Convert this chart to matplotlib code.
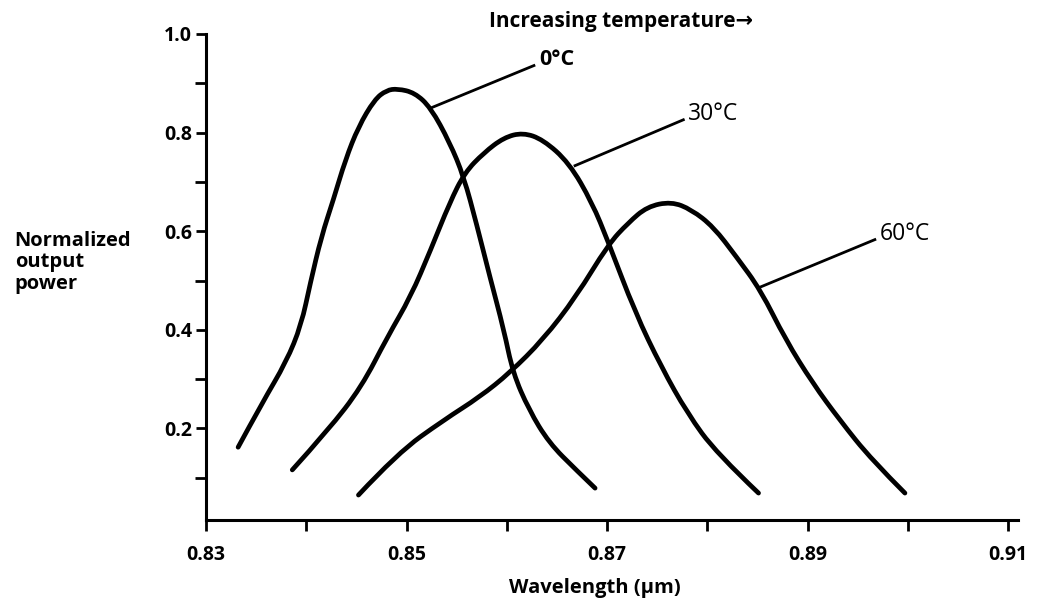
"""Normalized output power vs wavelength at three temperatures."""

import matplotlib.pyplot as plt
from matplotlib.path import Path
from matplotlib.patches import PathPatch
from matplotlib.ticker import MultipleLocator

plt.rcParams["font.family"] = ["Open Sans", "DejaVu Sans"]

# 0 °C curve (wavelength in µm, normalized power)
wl_0 = [0.8332, 0.8356, 0.8380, 0.8395, 0.8404, 0.8415, 0.8427, 0.8439,
        0.8452, 0.8468, 0.8480, 0.8491, 0.8508, 0.8524, 0.8543, 0.8557,
        0.8570, 0.8583, 0.8597, 0.8606, 0.8622, 0.8642, 0.8669, 0.8688]
p_0 = [0.162, 0.252, 0.335, 0.410, 0.495, 0.589, 0.664, 0.745,
       0.812, 0.867, 0.886, 0.889, 0.881, 0.851, 0.780, 0.711,
       0.613, 0.508, 0.400, 0.313, 0.238, 0.171, 0.116, 0.079]

# 30 °C curve
wl_30 = [0.8386, 0.8422, 0.8455, 0.8481, 0.8504, 0.8524, 0.8543, 0.8558,
         0.8577, 0.8597, 0.8616, 0.8636, 0.8662, 0.8685, 0.8701, 0.8728,
         0.8754, 0.8780, 0.8809, 0.8851]
p_30 = [0.116, 0.197, 0.284, 0.386, 0.467, 0.562, 0.658, 0.719,
        0.759, 0.790, 0.800, 0.786, 0.739, 0.658, 0.579, 0.435,
        0.325, 0.231, 0.150, 0.069]

# 60 °C curve
wl_60 = [0.8452, 0.8491, 0.8537, 0.8573, 0.8603, 0.8636, 0.8669, 0.8701,
         0.8721, 0.8740, 0.8764, 0.8784, 0.8806, 0.8829, 0.8853, 0.8878,
         0.8905, 0.8932, 0.8964, 0.8997]
p_60 = [0.065, 0.150, 0.217, 0.264, 0.313, 0.380, 0.467, 0.573,
        0.617, 0.650, 0.660, 0.644, 0.609, 0.548, 0.481, 0.380,
        0.292, 0.217, 0.136, 0.069]

labels = ["0°C", "30°C", "60°C"]
x_ticks = [0.83, 0.85, 0.87, 0.89, 0.91]
y_ticks = [0.2, 0.4, 0.6, 0.8, 1.0]


def smooth_path(xs, ys):
    """Quadratic Bezier path: read points are control points, midpoints anchors."""
    pts = list(zip(xs, ys))
    verts = [pts[0]]
    codes = [Path.MOVETO]
    for i in range(1, len(pts) - 1):
        mid = ((pts[i][0] + pts[i + 1][0]) / 2, (pts[i][1] + pts[i + 1][1]) / 2)
        if i == len(pts) - 2:
            mid = pts[-1]
        verts += [pts[i], mid]
        codes += [Path.CURVE3, Path.CURVE3]
    return Path(verts, codes)


fig = plt.figure(figsize=(10.48, 6.07), dpi=100)
ax = fig.add_axes([0.1966, 0.143, 0.775, 0.801])

for wl, p in [(wl_0, p_0), (wl_30, p_30), (wl_60, p_60)]:
    ax.add_patch(PathPatch(smooth_path(wl, p), facecolor="none",
                           edgecolor="black", lw=3.4, capstyle="round",
                           joinstyle="round"))

# leader lines and curve labels
leaders = [((0.8523, 0.849), (0.8627, 0.936)),
           ((0.8668, 0.733), (0.8776, 0.826)),
           ((0.8853, 0.487), (0.8967, 0.583))]
for (start, end), lab, bold in zip(leaders, labels, [True, False, False]):
    ax.plot([start[0], end[0]], [start[1], end[1]], color="black", lw=2)
    ax.text(end[0] + 0.0005, end[1] + 0.012, lab, ha="left", va="center",
            fontsize=15.5 if bold else 16.5,
            fontweight="bold" if bold else "normal")

ax.set_xlim(0.83, 0.911)
ax.set_ylim(0.014, 1.0)
ax.set_xticks(x_ticks)
ax.set_xticklabels([f"{v:.2f}" for v in x_ticks])
ax.set_yticks(y_ticks)
ax.set_yticklabels([f"{v:.1f}" for v in y_ticks])
ax.xaxis.set_minor_locator(MultipleLocator(0.01))
ax.yaxis.set_minor_locator(MultipleLocator(0.1))
ax.tick_params(axis="both", which="both", direction="out", width=2,
               length=8, color="black")
ax.tick_params(axis="y", which="major", length=7, pad=3)
ax.tick_params(axis="x", which="major", pad=10)
for lab in ax.get_xticklabels() + ax.get_yticklabels():
    lab.set_fontweight("bold")
    lab.set_fontsize(14)

ax.spines["top"].set_visible(False)
ax.spines["right"].set_visible(False)
ax.spines["left"].set_linewidth(2.2)
ax.spines["bottom"].set_linewidth(2.2)

fig.text(0.568, 0.032, "Wavelength (μm)", ha="center", va="center",
         fontsize=14.5, fontweight="bold")
fig.text(0.014, 0.568, "Normalized\noutput\npower", ha="left", va="center",
         fontsize=14.5, fontweight="bold", linespacing=1.1)
fig.text(0.467, 0.965, "Increasing temperature→", ha="left",
         va="center", fontsize=15, fontweight="bold")

fig.savefig("out.png", dpi=100)
plt.close(fig)
